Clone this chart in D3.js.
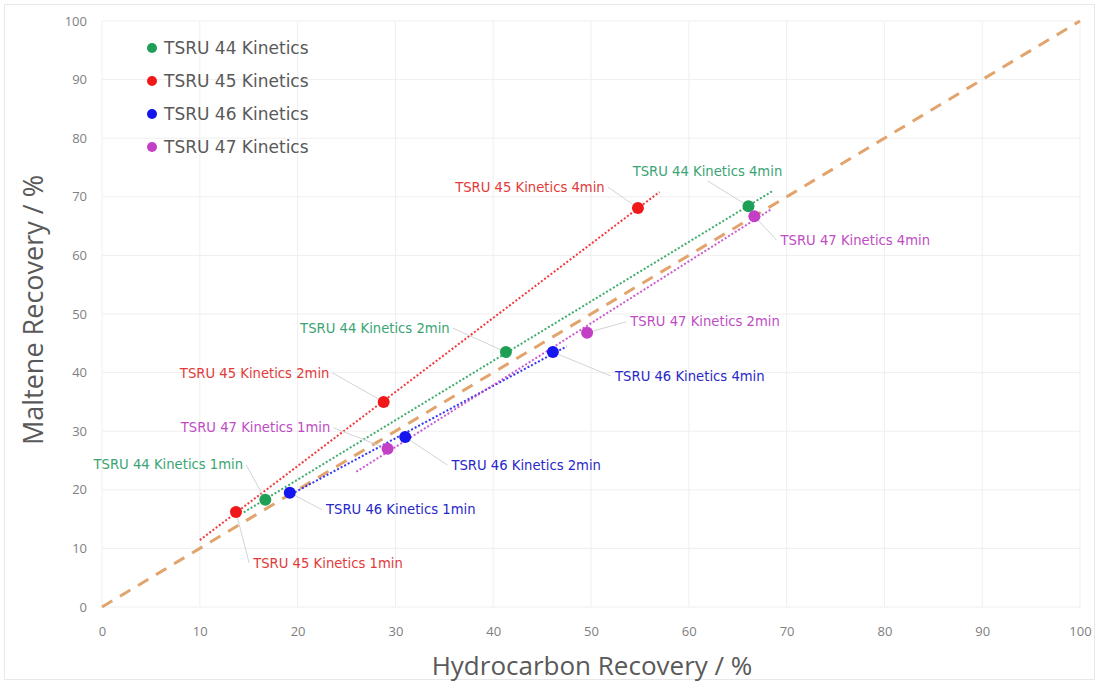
<!DOCTYPE html>
<html><head><meta charset="utf-8">
<script src="https://cdn.jsdelivr.net/npm/d3@7/dist/d3.min.js"></script>
<style>body{margin:0;background:#fff;} svg{display:block;}</style>
</head><body>
<svg id="chart" width="1099" height="684"></svg>
<script>
// ---- data ----
const seriesNames = ["TSRU 44 Kinetics", "TSRU 45 Kinetics", "TSRU 46 Kinetics", "TSRU 47 Kinetics"];
const times = ["1min", "2min", "4min"];
const hcRecovery = [
  [16.7, 41.3, 66.1],
  [13.7, 28.8, 54.8],
  [19.2, 31.0, 46.1],
  [29.2, 49.6, 66.7]
];
const maltRecovery = [
  [18.3, 43.5, 68.4],
  [16.2, 35.0, 68.1],
  [19.5, 29.0, 43.5],
  [27.0, 46.8, 66.7]
];
const trendRange = [[14.5, 68.5], [10, 57], [19, 47.5], [26, 68.5]];
const xTicks = [0,10,20,30,40,50,60,70,80,90,100];
const yTicks = [0,10,20,30,40,50,60,70,80,90,100];

// ---- styles / layout ----
const colors = ["#1f9e55", "#f01818", "#1515ee", "#c23fc6"];
const labelColors = ["#3aa474", "#e23a3a", "#2828c8", "#c04cc4"];
// label centre offsets (px) from each point
const labelOffsets = [
  [[-97,-35],[-131,-24],[-41,-35]],
  [[92,51],[-129,-29],[-108,-21]],
  [[111,17],[121,28],[137,24]],
  [[-132,-21],[118,-11],[101,24]]
];

const svg = d3.select("#chart");
const m = {left:102, right:1080, top:21, bottom:607};
const x = d3.scaleLinear().domain([0,100]).range([m.left, m.right]);
const y = d3.scaleLinear().domain([0,100]).range([m.bottom, m.top]);
const font = "'Open Sans', 'Noto Sans', sans-serif";
const smallFont = "'DejaVu Sans', sans-serif";

// outer border
svg.append("rect").attr("x",4.5).attr("y",4.5).attr("width",1090).attr("height",675)
  .attr("fill","none").attr("stroke","#e8e8e8");

// gridlines
svg.append("g").selectAll("line").data(yTicks).join("line")
  .attr("x1", m.left).attr("x2", m.right).attr("y1", d=>y(d)).attr("y2", d=>y(d))
  .attr("stroke", "#efefef").attr("stroke-width",1);
svg.append("g").selectAll("line").data(xTicks).join("line")
  .attr("y1", m.top).attr("y2", m.bottom).attr("x1", d=>x(d)).attr("x2", d=>x(d))
  .attr("stroke", "#efefef").attr("stroke-width",1);

// axes tick labels
const xAxis = svg.append("g").attr("transform", `translate(0,${m.bottom})`)
  .call(d3.axisBottom(x).tickValues(xTicks).tickSize(0).tickPadding(20));
xAxis.select(".domain").remove();
xAxis.selectAll("text").attr("fill","#808080").style("font-family",font).style("font-size","13px");
const yAxis = svg.append("g").attr("transform", `translate(${m.left},0)`)
  .call(d3.axisLeft(y).tickValues(yTicks).tickSize(0).tickPadding(15));
yAxis.select(".domain").remove();
yAxis.selectAll("text").attr("fill","#808080").style("font-family",font).style("font-size","13px");

// axis titles
svg.append("text").attr("x", 592).attr("y", 675).attr("text-anchor","middle")
  .attr("fill","#595959").style("font-family",font).style("font-size","26px")
  .text("Hydrocarbon Recovery / %");
svg.append("text").attr("transform","translate(43,310) rotate(-90)").attr("text-anchor","middle")
  .attr("fill","#595959").style("font-family",font).style("font-size","27px")
  .text("Maltene Recovery / %");

// 1:1 line
svg.append("line").attr("x1", x(0)).attr("y1", y(0)).attr("x2", x(100)).attr("y2", y(100))
  .attr("stroke","#e2a46c").attr("stroke-width",3).attr("stroke-dasharray","12,9");

// trendlines (linear regression of each series)
seriesNames.forEach((s,i)=>{
  const xs = hcRecovery[i], ys = maltRecovery[i];
  const mx = d3.mean(xs), my = d3.mean(ys);
  const slope = d3.sum(xs.map((v,k)=>(v-mx)*(ys[k]-my))) / d3.sum(xs.map(v=>(v-mx)*(v-mx)));
  const icpt = my - slope*mx;
  const [a,b] = trendRange[i];
  svg.append("line").attr("x1", x(a)).attr("y1", y(icpt+slope*a))
    .attr("x2", x(b)).attr("y2", y(icpt+slope*b))
    .attr("stroke", colors[i]).attr("stroke-width",2).attr("stroke-dasharray","2,2").attr("opacity",0.85);
});

// data labels with leader lines
const labelG = svg.append("g");
seriesNames.forEach((s,i)=>{
  times.forEach((t,k)=>{
    const px = x(hcRecovery[i][k]), py = y(maltRecovery[i][k]);
    const [dx,dy] = labelOffsets[i][k];
    const cx = px+dx, cy = py+dy;
    const txt = labelG.append("text").attr("x",cx).attr("y",cy).attr("dy","0.35em")
      .attr("text-anchor","middle").attr("fill",labelColors[i])
      .style("font-family",smallFont).style("font-size","13.2px").text(`${s} ${t}`);
    const bb = txt.node().getBBox();
    let lx = cx, ly = cy;
    if (px > bb.x + bb.width) lx = bb.x + bb.width + 3;
    else if (px < bb.x) lx = bb.x - 3;
    else ly = py < cy ? bb.y - 2 : bb.y + bb.height + 2;
    labelG.insert("line","text").attr("x1",lx).attr("y1",ly).attr("x2",px).attr("y2",py)
      .attr("stroke","#d4d4d4").attr("stroke-width",1);
  });
});

// points
seriesNames.forEach((s,i)=>{
  svg.append("g").selectAll("circle").data(times).join("circle")
    .attr("cx",(d,k)=>x(hcRecovery[i][k])).attr("cy",(d,k)=>y(maltRecovery[i][k]))
    .attr("r",6).attr("fill",colors[i]);
});

// legend
const leg = svg.append("g");
seriesNames.forEach((s,i)=>{
  const ly = 48 + i*33;
  leg.append("circle").attr("cx",152).attr("cy",ly).attr("r",5).attr("fill",colors[i]);
  leg.append("text").attr("x",164).attr("y",ly).attr("dy","0.35em").attr("fill","#595959")
    .style("font-family",smallFont).style("font-size","17px").text(s);
});
</script>
</body></html>
